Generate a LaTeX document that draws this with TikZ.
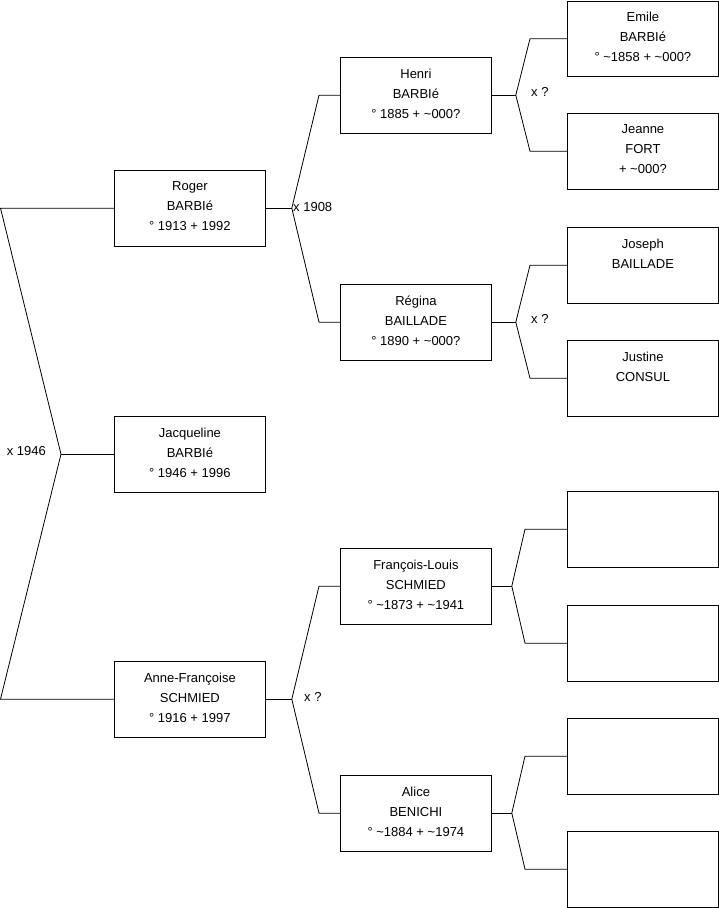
\documentclass[tikz,border=0pt]{standalone}
\usepackage{fontspec}
\setmainfont{Liberation Sans}
\usetikzlibrary{positioning}

\begin{document}
\begin{tikzpicture}[x=1pt,y=-1pt,
  personne/.style={draw,line width=0.8pt,minimum width=151pt,minimum height=75.5pt,inner sep=0pt,anchor=north west,font=\fontsize{13}{20}\selectfont,align=center,text depth=3.5pt},
  lien/.style={line width=0.8pt},
  union/.style={inner sep=1pt,font=\fontsize{13}{14}\selectfont}
]
\useasboundingbox (0,0) rectangle (719,908);
% generation 1
\node[personne] (roger) at (114,170) {Roger\\BARBIé\\° 1913 + 1992};
\node[personne] (jacq) at (114,416) {Jacqueline\\BARBIé\\° 1946 + 1996};
\node[personne] (anne) at (114,661) {Anne-Françoise\\SCHMIED\\° 1916 + 1997};
% generation 2
\node[personne] (henri) at (340,57) {Henri\\BARBIé\\° 1885 + \textasciitilde000?};
\node[personne] (regina) at (340,284) {Régina\\BAILLADE\\° 1890 + \textasciitilde000?};
\node[personne] (francois) at (340,548) {François-Louis\\SCHMIED\\° \textasciitilde1873 + \textasciitilde1941};
\node[personne] (alice) at (340,775) {Alice\\BENICHI\\° \textasciitilde1884 + \textasciitilde1974};
% generation 3
\node[personne] (emile) at (567,0.5) {Emile\\BARBIé\\° \textasciitilde1858 + \textasciitilde000?};
\node[personne] (jeanne) at (567,113) {Jeanne\\FORT\\+ \textasciitilde000?};
\node[personne] (joseph) at (567,227) {Joseph\\BAILLADE\\\mbox{}};
\node[personne] (justine) at (567,340) {Justine\\CONSUL\\\mbox{}};
\node[personne] (vide1) at (567,491) {};
\node[personne] (vide2) at (567,605) {};
\node[personne] (vide3) at (567,718) {};
\node[personne] (vide4) at (567,831) {};

% jonctions
\coordinate (j0) at ([xshift=-53pt]jacq.west);
\coordinate (jr) at ([xshift=26pt]roger.east);
\coordinate (ja) at ([xshift=26pt]anne.east);
\coordinate (jh) at ([xshift=24pt]henri.east);
\coordinate (jg) at ([xshift=24pt]regina.east);
\coordinate (jf) at ([xshift=20pt]francois.east);
\coordinate (jl) at ([xshift=20pt]alice.east);

\draw[lien] (roger.west) -- ([xshift=-113.5pt]roger.west) -- (j0) -- ([xshift=-113.5pt]anne.west) -- (anne.west);
\draw[lien] (j0) -- (jacq.west);
\node[union,anchor=east] (m0) at (47,451) {x 1946};

\draw[lien] (roger.east) -- (jr);
\draw[lien] (henri.west) -- ++(-21,0) -- (jr) -- ([xshift=-21pt]regina.west) -- (regina.west);
\node[union,anchor=west] (mr) at (292,207) {x 1908};

\draw[lien] (anne.east) -- (ja);
\draw[lien] (francois.west) -- ++(-21,0) -- (ja) -- ([xshift=-21pt]alice.west) -- (alice.west);
\node[union,anchor=west] (ma) at (303,697) {x ?};

\draw[lien] (henri.east) -- (jh);
\draw[lien] (emile.west) -- ++(-37,0) -- (jh) -- ([xshift=-37pt]jeanne.west) -- (jeanne.west);
\node[union,anchor=west] (mh) at (530,92) {x ?};

\draw[lien] (regina.east) -- (jg);
\draw[lien] (joseph.west) -- ++(-37,0) -- (jg) -- ([xshift=-37pt]justine.west) -- (justine.west);
\node[union,anchor=west] (mg) at (530,319) {x ?};

\draw[lien] (francois.east) -- (jf);
\draw[lien] (vide1.west) -- ++(-42,0) -- (jf) -- ([xshift=-42pt]vide2.west) -- (vide2.west);

\draw[lien] (alice.east) -- (jl);
\draw[lien] (vide3.west) -- ++(-42,0) -- (jl) -- ([xshift=-42pt]vide4.west) -- (vide4.west);
\end{tikzpicture}
\end{document}
